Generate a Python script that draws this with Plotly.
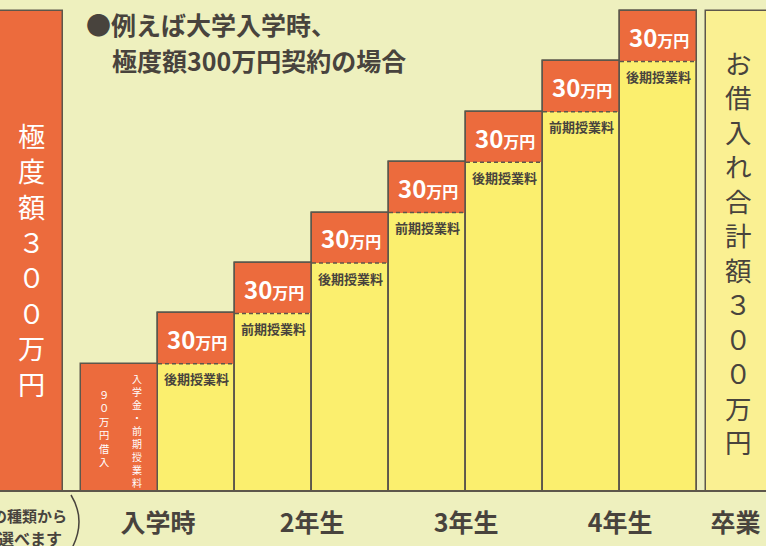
import plotly.graph_objects as go

# ---- data ----
title_lines = ["●例えば大学入学時、", "極度額300万円契約の場合"]
limit_label = "極度額３００万円"
total_label = "お借入れ合計額３００万円"
limit_amount = 300
first_amount = 90
step_amounts = [30, 30, 30, 30, 30, 30, 30]
step_labels = ["後期授業料", "前期授業料", "後期授業料", "前期授業料",
               "後期授業料", "前期授業料", "後期授業料"]
first_text_cols = ["入学金・前期授業料", "９０万円借入"]
year_labels = ["入学時", "2年生", "3年生", "4年生", "卒業"]
note_lines = ["の種類から", "選べます"]
unit = "万円"

# ---- styles ----
W, H = 766, 546
BG = "#eef0be"
ORANGE = "#ec6b3d"
YELLOW = "#fbef6e"
PALE = "#faf092"
LINE = "#5d574b"
DARK = "#48433d"
FONT = "Noto Sans CJK JP"

# cumulative
cum = [first_amount]
for a in step_amounts:
    cum.append(cum[-1] + a)
bases = cum[:-1]
tops = cum[1:]
step_x = list(range(2, 2 + len(step_amounts)))

fig = go.Figure()

# limit bar (left)
fig.add_trace(go.Bar(x=[0], y=[limit_amount], offset=-0.6, width=0.87,
                     marker=dict(color=ORANGE, line=dict(color=LINE, width=1.5)),
                     hoverinfo="skip"))
# total bar (right)
fig.add_trace(go.Bar(x=[len(step_amounts) + 2], y=[cum[-1]], offset=-0.38, width=1.0,
                     marker=dict(color=PALE, line=dict(color=LINE, width=1.5)),
                     hoverinfo="skip"))
# yellow step bars
fig.add_trace(go.Bar(x=step_x, y=tops, width=1.0,
                     marker=dict(color=YELLOW, line=dict(color=LINE, width=1.5)),
                     hoverinfo="skip"))
# orange increments
fig.add_trace(go.Bar(x=step_x, y=step_amounts, base=bases, width=1.0,
                     marker=dict(color=ORANGE, line=dict(width=0)),
                     hoverinfo="skip"))
# outlines over
fig.add_trace(go.Bar(x=step_x, y=tops, width=1.0,
                     marker=dict(color="rgba(0,0,0,0)", line=dict(color=LINE, width=1.5)),
                     hoverinfo="skip"))
# first bar
fig.add_trace(go.Bar(x=[1], y=[first_amount], width=1.0,
                     marker=dict(color=ORANGE, line=dict(color=LINE, width=1.5)),
                     hoverinfo="skip"))
# dashed separators
dx, dy = [], []
for xi, b in zip(step_x, bases):
    dx += [xi - 0.5, xi + 0.5, None]
    dy += [b, b, None]
fig.add_trace(go.Scatter(x=dx, y=dy, mode="lines",
                         line=dict(color=LINE, width=1.5, dash="4px,3px"),
                         hoverinfo="skip"))

ann = []
# 30万円 labels and 授業料 labels
for xi, b, a, lab in zip(step_x, bases, step_amounts, step_labels):
    ann.append(dict(x=xi, y=b + a / 2, xref="x", yref="y", showarrow=False,
                    text=f"<b>{a}</b><span style='font-size:16px'><b>{unit}</b></span>",
                    font=dict(family=FONT, size=24, color="white")))
    ann.append(dict(x=xi, y=b, xref="x", yref="y", yshift=-15, showarrow=False,
                    text=f"<b>{lab}</b>",
                    font=dict(family=FONT, size=13, color=DARK)))


def vertical_block(text, xpx, y_top, size, color):
    ann.append(dict(x=xpx / W, y=1 - y_top / H, xref="paper", yref="paper",
                    showarrow=False, text="<br>".join(text), xanchor="center",
                    yanchor="top", borderpad=0,
                    font=dict(family=FONT, size=size, color=color)))


vertical_block(limit_label, 31, 114, 27.2, "white")
vertical_block(total_label, 738, 42, 26.5, DARK)
vertical_block(first_text_cols[0], 137, 370, 10, "white")
vertical_block(first_text_cols[1], 104, 386, 10.3, "white")

# title
ann.append(dict(x=84 / W, y=1 - 24 / H, xref="paper", yref="paper", showarrow=False,
                xanchor="left", yanchor="middle", text=title_lines[0],
                font=dict(family=FONT, size=25, color=DARK, weight="bold")))
ann.append(dict(x=110 / W, y=1 - 60 / H, xref="paper", yref="paper", showarrow=False,
                xanchor="left", yanchor="middle", text=title_lines[1],
                font=dict(family=FONT, size=25, color=DARK, weight="bold")))
# bottom-left note
ann.append(dict(x=69 / W, y=1 - 515 / H, xref="paper", yref="paper", showarrow=False,
                xanchor="right", yanchor="middle", text=note_lines[0],
                font=dict(family=FONT, size=15, color=DARK, weight="bold")))
ann.append(dict(x=64 / W, y=1 - 538 / H, xref="paper", yref="paper", showarrow=False,
                xanchor="right", yanchor="middle", text=note_lines[1],
                font=dict(family=FONT, size=16, color=DARK, weight="bold")))

bracket = (f"M {71/W} {1-495/H} Q {87/W} {1-521/H} {71/W} {1-550/H}")

# axis geometry
x_lo, x_hi = 1 - 119.5 / 77, 1 + (W - 119.5) / 77
px_per = 50.4 / 30
y_top_val = cum[-1] + 11 / px_per
y_bot_val = cum[-1] - (490 - 11) / px_per

year_pos = [1.5 + 2 * k for k in range(4)] + [len(step_amounts) + 2]

fig.update_layout(
    width=W, height=H, margin=dict(l=0, r=0, t=0, b=0),
    paper_bgcolor=BG, plot_bgcolor=BG, showlegend=False,
    barmode="overlay", bargap=0,
    annotations=ann,
    shapes=[dict(type="path", xref="paper", yref="paper", path=bracket,
                 line=dict(color=DARK, width=1.5))],
    xaxis=dict(range=[x_lo, x_hi], showgrid=False, zeroline=False,
               showline=True, linecolor=LINE, linewidth=2,
               tickvals=year_pos, ticktext=year_labels, ticks="",
               tickfont=dict(family=FONT, size=25, color=DARK, weight="bold"),
               ticklabelstandoff=10),
    yaxis=dict(range=[y_bot_val, y_top_val], domain=[(H - 490) / H, 1],
               visible=False, showgrid=False, zeroline=False),
)

fig.write_html("out.html", config={"displayModeBar": False},
               post_script="document.body.style.margin='0';")
